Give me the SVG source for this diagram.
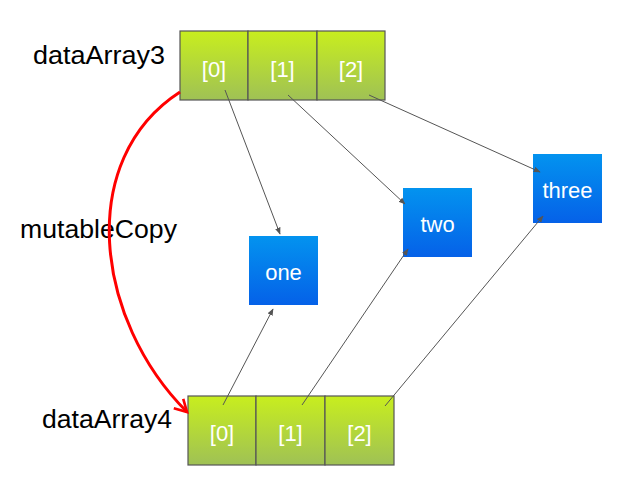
<svg xmlns="http://www.w3.org/2000/svg" width="639" height="493" viewBox="0 0 639 493">
<defs>
<linearGradient id="g" x1="0" y1="0" x2="0" y2="1">
<stop offset="0" stop-color="#c8ee1e"/>
<stop offset="1" stop-color="#9fc155"/>
</linearGradient>
<linearGradient id="b" x1="0" y1="0" x2="0" y2="1">
<stop offset="0" stop-color="#0393ef"/>
<stop offset="1" stop-color="#0561e8"/>
</linearGradient>
<marker id="ah" viewBox="0 0 10 10" refX="9" refY="5" markerWidth="7" markerHeight="7" markerUnits="userSpaceOnUse" orient="auto">
<path d="M0,1 L10,5 L0,9 Z" fill="#555"/>
</marker>
<marker id="rh" viewBox="0 0 12 12" refX="10" refY="6" markerWidth="16" markerHeight="16" markerUnits="userSpaceOnUse" orient="auto">
<path d="M1,1 L10,6 L1,11" fill="none" stroke="#f00" stroke-width="2"/>
</marker>
</defs>
<style>
.cell{fill:url(#g);stroke:#555;stroke-width:1.2}
.box{fill:url(#b)}
.wt{font-family:"Liberation Sans",Arial,sans-serif;font-size:22px;fill:#fff;text-anchor:middle}
.lbl{font-family:"Liberation Sans",Arial,sans-serif;font-size:25px;fill:#000}
.con{stroke:#555;stroke-width:1;fill:none;marker-end:url(#ah)}
</style>
<rect width="639" height="493" fill="#fff"/>
<g id="label-dataArray3"><text class="lbl" x="33" y="64" textLength="132" lengthAdjust="spacingAndGlyphs">dataArray3</text></g>
<g id="label-mutableCopy"><text class="lbl" x="20" y="238" textLength="157" lengthAdjust="spacingAndGlyphs">mutableCopy</text></g>
<g id="label-dataArray4"><text class="lbl" x="42" y="428" textLength="130" lengthAdjust="spacingAndGlyphs">dataArray4</text></g>
<g id="dataArray3">
<rect class="cell" x="180" y="31" width="68" height="69"/>
<rect class="cell" x="248" y="31" width="69" height="69"/>
<rect class="cell" x="317" y="31" width="68" height="69"/>
<text class="wt" x="214" y="77">[0]</text>
<text class="wt" x="282.5" y="77">[1]</text>
<text class="wt" x="351" y="77">[2]</text>
</g>
<g id="dataArray4">
<rect class="cell" x="188" y="396" width="68" height="69"/>
<rect class="cell" x="256" y="396" width="69" height="69"/>
<rect class="cell" x="325" y="396" width="69" height="69"/>
<text class="wt" x="222" y="441">[0]</text>
<text class="wt" x="290.5" y="441">[1]</text>
<text class="wt" x="359.5" y="441">[2]</text>
</g>
<g id="one"><rect class="box" x="249" y="236" width="69" height="69"/><text class="wt" x="283.5" y="280">one</text></g>
<g id="two"><rect class="box" x="403" y="188" width="69" height="69"/><text class="wt" x="437.5" y="232">two</text></g>
<g id="three"><rect class="box" x="533" y="154" width="69" height="69"/><text class="wt" x="567.5" y="198">three</text></g>
<g id="connectors">
<line class="con" x1="225" y1="90" x2="280" y2="234"/>
<line class="con" x1="288" y1="95" x2="405" y2="204"/>
<line class="con" x1="369" y1="95" x2="540" y2="172"/>
<line class="con" x1="223" y1="405" x2="273" y2="309"/>
<line class="con" x1="302" y1="405" x2="408" y2="249"/>
<line class="con" x1="385" y1="406" x2="543" y2="216"/>
<path d="M180,92 C75,160 95,320 187,412" fill="none" stroke="#f00" stroke-width="3" marker-end="url(#rh)"/>
</g>
</svg>
